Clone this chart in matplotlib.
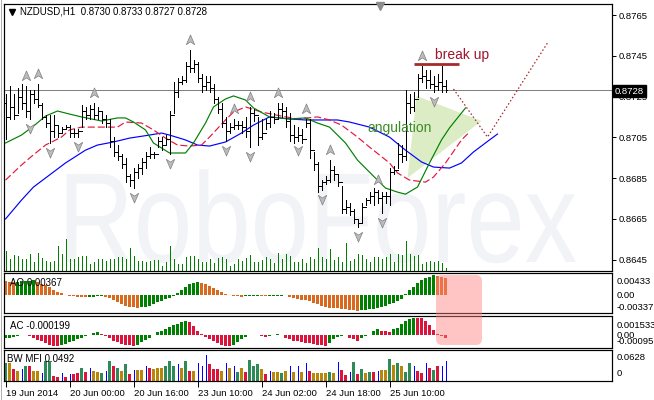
import numpy as np
import matplotlib
matplotlib.use("Agg")
import matplotlib.pyplot as plt
from matplotlib.path import Path
from matplotlib.patches import Polygon, FancyBboxPatch, PathPatch
from matplotlib.lines import Line2D
from matplotlib.textpath import TextPath
from matplotlib.font_manager import FontProperties
from matplotlib.transforms import Affine2D, ScaledTranslation

plt.rcParams['font.family'] = ['Liberation Sans', 'DejaVu Sans']

# ---- H1 bars, NZDUSD ----
high = [0.8726, 0.8730, 0.8726, 0.8729, 0.8731, 0.8730, 0.8728, 0.8728, 0.8731, 0.8722,
        0.8716, 0.8716, 0.8716, 0.8711, 0.8710, 0.8711, 0.8711, 0.8709, 0.8709, 0.8721,
        0.8720, 0.8721, 0.8722, 0.8720, 0.8718, 0.8716, 0.8714, 0.8705, 0.8701, 0.8697,
        0.8695, 0.8687, 0.8690, 0.8692, 0.8695, 0.8698, 0.8700, 0.8698, 0.8705, 0.8705,
        0.8706, 0.8718, 0.8732, 0.8734, 0.8735, 0.8742, 0.8748, 0.8743, 0.8742, 0.8736,
        0.8735, 0.8735, 0.8731, 0.8725, 0.8722, 0.8715, 0.8712, 0.8714, 0.8713, 0.8713,
        0.8715, 0.8720, 0.8719, 0.8715, 0.8714, 0.8714, 0.8718, 0.8717, 0.8722, 0.8722,
        0.8720, 0.8717, 0.8711, 0.8710, 0.8709, 0.8714, 0.8714, 0.8698, 0.8693, 0.8684,
        0.8686, 0.8694, 0.8691, 0.8687, 0.8681, 0.8674, 0.8673, 0.8670, 0.8665, 0.8673,
        0.8675, 0.8678, 0.8680, 0.8679, 0.8678, 0.8678, 0.8690, 0.8691, 0.8702, 0.8701,
        0.8728, 0.8726, 0.8727, 0.8736, 0.8740, 0.8738, 0.8738, 0.8735, 0.8736, 0.8740,
        0.8733]
low = [0.8704, 0.8714, 0.8714, 0.8717, 0.8719, 0.8715, 0.8714, 0.8722, 0.8720, 0.8714,
       0.8710, 0.8702, 0.8705, 0.8705, 0.8707, 0.8709, 0.8705, 0.8705, 0.8705, 0.8710,
       0.8714, 0.8714, 0.8714, 0.8714, 0.8712, 0.8710, 0.8700, 0.8696, 0.8694, 0.8690,
       0.8683, 0.8681, 0.8680, 0.8685, 0.8687, 0.8690, 0.8695, 0.8695, 0.8700, 0.8699,
       0.8701, 0.8697, 0.8717, 0.8725, 0.8731, 0.8732, 0.8737, 0.8737, 0.8732, 0.8727,
       0.8728, 0.8727, 0.8722, 0.8717, 0.8710, 0.8703, 0.8707, 0.8709, 0.8709, 0.8707,
       0.8705, 0.8700, 0.8713, 0.8701, 0.8704, 0.8709, 0.8710, 0.8712, 0.8714, 0.8715,
       0.8710, 0.8703, 0.8702, 0.8703, 0.8702, 0.8710, 0.8695, 0.8689, 0.8678, 0.8679,
       0.8682, 0.8683, 0.8684, 0.8681, 0.8668, 0.8668, 0.8667, 0.8663, 0.8661, 0.8663,
       0.8672, 0.8673, 0.8672, 0.8673, 0.8668, 0.8673, 0.8672, 0.8687, 0.8690, 0.8693,
       0.8694, 0.8717, 0.8718, 0.8725, 0.8732, 0.8729, 0.8729, 0.8727, 0.8728, 0.8727,
       0.8727]
close = [0.8715, 0.8720, 0.8716, 0.8725, 0.8722, 0.8718, 0.8726, 0.8724, 0.8721, 0.8715,
         0.8712, 0.8708, 0.8711, 0.8707, 0.8709, 0.8710, 0.8707, 0.8707, 0.8708, 0.8718,
         0.8716, 0.8719, 0.8716, 0.8718, 0.8714, 0.8712, 0.8703, 0.8698, 0.8696, 0.8692,
         0.8686, 0.8684, 0.8688, 0.8690, 0.8693, 0.8696, 0.8697, 0.8697, 0.8703, 0.8701,
         0.8704, 0.8716, 0.8727, 0.8732, 0.8733, 0.8740, 0.8739, 0.8741, 0.8734, 0.8730,
         0.8732, 0.8729, 0.8724, 0.8719, 0.8712, 0.8708, 0.8710, 0.8711, 0.8711, 0.8710,
         0.8708, 0.8717, 0.8716, 0.8705, 0.8707, 0.8712, 0.8715, 0.8714, 0.8719, 0.8718,
         0.8713, 0.8706, 0.8705, 0.8706, 0.8704, 0.8712, 0.8699, 0.8692, 0.8681, 0.8683,
         0.8684, 0.8689, 0.8687, 0.8683, 0.8670, 0.8671, 0.8669, 0.8665, 0.8663, 0.8671,
         0.8674, 0.8676, 0.8678, 0.8675, 0.8676, 0.8676, 0.8688, 0.8689, 0.8697, 0.8696,
         0.8722, 0.8720, 0.8724, 0.8734, 0.8735, 0.8733, 0.8731, 0.8730, 0.8732, 0.8730,
         0.8728]
first_open = 0.8722
last_price = 0.8728

volume = [800, 480, 640, 600, 480, 480, 680, 360, 720, 520,
          400, 360, 400, 1000, 680, 1280, 480, 480, 560, 600,
          600, 280, 360, 480, 480, 400, 480, 480, 560, 560,
          480, 920, 600, 400, 400, 360, 400, 440, 440, 200,
          360, 1000, 480, 280, 280, 560, 600, 600, 480, 360,
          360, 480, 320, 520, 560, 480, 200, 280, 480, 400,
          520, 640, 360, 360, 440, 560, 480, 320, 720, 480,
          680, 600, 360, 360, 480, 320, 560, 480, 920, 560,
          480, 880, 440, 560, 360, 1120, 400, 480, 680, 640,
          480, 360, 560, 560, 480, 560, 680, 360, 680, 640,
          1200, 680, 600, 640, 280, 360, 400, 360, 400, 320,
          120]

# Alligator (shifted lines run past the last bar)
jaw_x = [0, 4, 7, 11, 15, 20, 23, 27, 31, 36, 39, 41, 45, 48, 51, 55, 59, 62, 66, 71,
         75, 83, 86, 91, 96, 100, 104, 107, 111, 114, 117, 121, 123]
jaw_y = [0.86649, 0.86742, 0.86806, 0.86865, 0.86924, 0.86987, 0.87012, 0.87027, 0.87046, 0.87061,
         0.87071, 0.87061, 0.87037, 0.87012, 0.87007, 0.87027, 0.87071, 0.87110, 0.87150, 0.87140,
         0.87135, 0.87135, 0.87125, 0.87100, 0.87051, 0.86987, 0.86929, 0.86904, 0.86899, 0.86924,
         0.86978, 0.87037, 0.87066]
teeth_x = [0, 4, 6, 10, 14, 16, 19, 24, 28, 30, 34, 37, 40, 43, 46, 49, 51, 55, 57, 60,
           64, 69, 73, 78, 81, 84, 88, 91, 96, 98, 101, 105, 107, 110, 114, 116]
teeth_y = [0.86840, 0.86914, 0.86948, 0.87012, 0.87051, 0.87086, 0.87100, 0.87100, 0.87100, 0.87125,
           0.87120, 0.87086, 0.87046, 0.87012, 0.87007, 0.87012, 0.87051, 0.87135, 0.87174, 0.87199,
           0.87174, 0.87154, 0.87140, 0.87150, 0.87135, 0.87110, 0.87051, 0.87002, 0.86924, 0.86875,
           0.86840, 0.86830, 0.86855, 0.86924, 0.87037, 0.87076]
lips_x = [0, 4, 7, 10, 13, 16, 19, 24, 28, 30, 32, 35, 37, 41, 45, 47, 50, 52, 55, 57,
          60, 62, 66, 71, 75, 78, 81, 85, 88, 91, 95, 98, 100, 103, 106, 109, 111, 115]
lips_y = [0.87022, 0.87061, 0.87105, 0.87154, 0.87179, 0.87164, 0.87150, 0.87130, 0.87145, 0.87145,
          0.87125, 0.87086, 0.87022, 0.86973, 0.86973, 0.87022, 0.87120, 0.87199, 0.87238, 0.87253,
          0.87233, 0.87194, 0.87150, 0.87140, 0.87145, 0.87120, 0.87100, 0.87022, 0.86938, 0.86879,
          0.86801, 0.86781, 0.86771, 0.86806, 0.86924, 0.87037, 0.87096, 0.87194]

fractal_up = [5, 8, 22, 46, 57, 61, 68, 75, 81, 93, 104]
fractal_down = [6, 11, 18, 32, 41, 55, 61, 73, 79, 88, 94, 107]

# hand drawn analysis objects
angle_x = [102.75, 119.0, 100.5]
angle_y = [0.87253, 0.87130, 0.86850]
forecast_x = [112.0, 120.5, 135.5]
forecast_y = [0.87287, 0.87051, 0.87513]
breakup_x = [102.0, 113.25]
breakup_y = 0.87408

ao = [0.00301, 0.00293, 0.00286, 0.00293, 0.00301, 0.00308, 0.00315, 0.00323, 0.00293, 0.00249,
      0.00213, 0.00169, 0.00117, 0.00073, 0.00044, 0.00015, -0.00007, -0.00022, -0.00029, -0.00037,
      -0.00044, -0.00037, -0.00029, -0.00022, -0.00015, -0.00029, -0.00066, -0.00110, -0.00147, -0.00183,
      -0.00220, -0.00242, -0.00257, -0.00264, -0.00257, -0.00242, -0.00220, -0.00191, -0.00154, -0.00117,
      -0.00088, -0.00059, -0.00022, 0.00044, 0.00110, 0.00176, 0.00235, 0.00271, 0.00293, 0.00271,
      0.00242, 0.00205, 0.00161, 0.00117, 0.00073, 0.00037, 0.00015, -0.00007, -0.00022, -0.00029,
      -0.00026, -0.00022, -0.00018, -0.00015, -0.00018, -0.00022, -0.00018, -0.00015, -0.00011, -0.00007,
      -0.00004, -0.00029, -0.00059, -0.00081, -0.00095, -0.00103, -0.00125, -0.00161, -0.00198, -0.00235,
      -0.00249, -0.00271, -0.00279, -0.00282, -0.00293, -0.00301, -0.00308, -0.00325, -0.00337, -0.00325,
      -0.00315, -0.00301, -0.00286, -0.00271, -0.00257, -0.00235, -0.00198, -0.00161, -0.00125, -0.00088,
      0.00029, 0.00117, 0.00169, 0.00264, 0.00330, 0.00367, 0.00381, 0.00433, 0.00411, 0.00381,
      0.00367]

ac = [-0.000274, -0.000205, -0.000137, -0.000068, 0.0, 0.000034, -0.000068, -0.000205, -0.000410, -0.000547,
      -0.000684, -0.000821, -0.00093, -0.00095, -0.000889, -0.000752, -0.000616, -0.000479, -0.000342, -0.000205,
      -0.000068, 0.000068, 0.000205, 0.000274, 0.000137, -0.000068, -0.000274, -0.000479, -0.000616, -0.000752,
      -0.000821, -0.000889, -0.00093, -0.000821, -0.000616, -0.000410, -0.000205, 0.000068, 0.000274, 0.000410,
      0.000547, 0.000752, 0.000889, 0.001026, 0.001163, 0.0013, 0.001163, 0.000821, 0.000410, 0.000137,
      -0.000137, -0.000342, -0.000547, -0.000684, -0.000821, -0.00093, -0.00095, -0.000821, -0.000616, -0.000342,
      -0.000137, 0.0, 0.000068, 0.0, -0.000068, -0.000137, -0.000068, 0.000068, 0.000137, 0.0,
      -0.000205, -0.000342, -0.000479, -0.000547, -0.000616, -0.000684, -0.000720, -0.000752, -0.000821, -0.000889,
      -0.00093, -0.000684, -0.000342, -0.000137, -0.000068, 0.000034, -0.000205, -0.000342, -0.000479, -0.000274,
      -0.000068, 0.000068, 0.000410, 0.000547, 0.000410, 0.000342, 0.000308, 0.000547, 0.000684, 0.000958,
      0.001231, 0.001436, 0.001533, 0.00152, 0.00150, 0.0013, 0.000889, 0.000479, 0.000137, -0.000068,
      -0.000199]

mfi = [0.0435, 0.0435, 0.0290, 0.0242, 0.0290, 0.0362, 0.0362, 0.0242, 0.0242, 0.0193,
       0.0483, 0.0483, 0.0121, 0.0097, 0.0193, 0.0097, 0.0169, 0.0169, 0.0193, 0.0314,
       0.0217, 0.0314, 0.0242, 0.0217, 0.0193, 0.0242, 0.0483, 0.0362, 0.0314, 0.0242,
       0.0411, 0.0169, 0.0266, 0.0266, 0.0266, 0.0362, 0.0314, 0.0290, 0.0314, 0.0314,
       0.0362, 0.0483, 0.0362, 0.0411, 0.0314, 0.0483, 0.0242, 0.0242, 0.0435, 0.0362,
       0.0628, 0.0411, 0.0290, 0.0290, 0.0242, 0.0435, 0.0314, 0.0362, 0.0217, 0.0314,
       0.0217, 0.0507, 0.0362, 0.0411, 0.0290, 0.0169, 0.0242, 0.0217, 0.0217, 0.0193,
       0.0242, 0.0362, 0.0217, 0.0362, 0.0217, 0.0435, 0.0242, 0.0193, 0.0193, 0.0193,
       0.0193, 0.0217, 0.0193, 0.0459, 0.0266, 0.0145, 0.0217, 0.0459, 0.0169, 0.0290,
       0.0193, 0.0217, 0.0217, 0.0242, 0.0266, 0.0266, 0.0531, 0.0386, 0.0435, 0.0362,
       0.0217, 0.0435, 0.0362, 0.0242, 0.0193, 0.0435, 0.0314, 0.0266, 0.0362, 0.0362,
       0.0492]
# g = green, y = fade, b = fake, r = squat
mfi_zone = ("gyrybgryyb" "ggrrbrbrrg" "rbyygbgrgy" "grbyybryyy" "gggbygrybb"
            "brrrybybgy" "rgggyrbyyg" "ybybybryyy" "ygybrrbgrg" "ygrbyygygy"
            "ggbrrbrgrb" "b")

x_label_pos = [0, 16, 32, 48, 64, 80, 96]
x_labels = ['19 Jun 2014', '20 Jun 00:00', '20 Jun 16:00', '23 Jun 10:00',
            '24 Jun 02:00', '24 Jun 18:00', '25 Jun 10:00']
price_ticks = [0.8765, 0.8745, 0.8725, 0.8705, 0.8685, 0.8665, 0.8645]

W, H = 654, 400
FS = 6.8
PX = 0.72  # one pixel in points


def px_rect(l, t, r, b):
    return [l / W, 1 - b / H, (r - l) / W, (b - t) / H]


def fig_label(x, y, s, **kw):
    fig.text(x / W, 1 - y / H, s, va='center', fontsize=kw.pop('fontsize', FS), **kw)


def style_panel(a):
    for sp in a.spines.values():
        sp.set_color('black')
        sp.set_linewidth(PX * 1.2)
    a.tick_params(axis='x', bottom=False, labelbottom=False)
    a.set_yticks([])


fig = plt.figure(figsize=(W / 100, H / 100), dpi=100)
ax = fig.add_axes(px_rect(4, 4, 612, 271))
ax_ao = fig.add_axes(px_rect(4, 273, 612, 313), sharex=ax)
ax_ac = fig.add_axes(px_rect(4, 316, 612, 348), sharex=ax)
ax_mfi = fig.add_axes(px_rect(4, 350, 612, 381), sharex=ax)
for a in (ax, ax_ao, ax_ac, ax_mfi):
    style_panel(a)

n = len(close)
idx = np.arange(n)
high = np.array(high)
low = np.array(low)
close = np.array(close)
open_ = np.r_[first_open, close[:-1]]

ax.set_xlim(-0.375, 151.625)
ax.set_ylim(0.86394, 0.87704)

# watermark
tp = TextPath((0, 0), "RoboForex", size=128, prop=FontProperties(family='Liberation Sans'))
wm_tr = Affine2D().scale(0.82, 1).translate(58, 400 - 262).scale(1 / W, 1 / H) + fig.transFigure
ax.add_patch(PathPatch(tp, transform=wm_tr, facecolor='#f2f3f7', edgecolor='none', zorder=0))

# volumes along the bottom of the price window
ax.vlines(idx, 0, np.array(volume) / (267 * 40), transform=ax.get_xaxis_transform(),
          color='#008000', lw=PX, antialiased=False, zorder=1)

ax.add_patch(Polygon(list(zip(angle_x, angle_y)), closed=True, facecolor='#dcedc6',
                     edgecolor='none', zorder=1))

ax.axhline(last_price, color='#808080', lw=PX, zorder=2)

ax.plot(jaw_x, jaw_y, color='#0000ff', lw=0.85, zorder=3)
ax.plot(teeth_x, teeth_y, color='#e3173e', lw=0.85, dashes=(6, 2.5), zorder=3)
ax.plot(lips_x, lips_y, color='#008000', lw=0.85, zorder=3)

ax.vlines(idx, low, high, color='black', lw=PX, antialiased=False, zorder=4)
ax.hlines(open_, idx - 0.45, idx, color='black', lw=PX, antialiased=False, zorder=4)
ax.hlines(close, idx, idx + 0.45, color='black', lw=PX, antialiased=False, zorder=4)

# fractal arrows
arrow_up = Path([(0, 1), (0.75, -0.75), (0, -0.25), (-0.75, -0.75), (0, 1)],
                [Path.MOVETO, Path.LINETO, Path.LINETO, Path.LINETO, Path.CLOSEPOLY])
arrow_dn = Path([(0, -1), (0.75, 0.75), (0, 0.25), (-0.75, 0.75), (0, -1)],
                [Path.MOVETO, Path.LINETO, Path.LINETO, Path.LINETO, Path.CLOSEPOLY])
up_tr = ax.transData + ScaledTranslation(0, 0.10, fig.dpi_scale_trans)
dn_tr = ax.transData + ScaledTranslation(0, -0.09, fig.dpi_scale_trans)
ax.plot(fractal_up, high[fractal_up], ls='none', marker=arrow_up, ms=8,
        mfc='#bcbcbc', mec='#808080', mew=0.5, transform=up_tr, zorder=5)
ax.plot(fractal_down, low[fractal_down], ls='none', marker=arrow_dn, ms=8,
        mfc='#bcbcbc', mec='#808080', mew=0.5, transform=dn_tr, zorder=5)

# analysis drawings
ax.plot(forecast_x, forecast_y, color='#a52a2a', lw=0.9, ls=(0, (1.2, 1.8)), zorder=5)
ax.plot(breakup_x, [breakup_y, breakup_y], color='#a52a2a', lw=2, solid_capstyle='butt', zorder=5)
ax.text(107.4, 0.87454, 'break up', color='#a0142d', fontsize=10, va='center', ha='left', zorder=6)
ax.text(90.4, 0.87094, 'angulation', color='#3c8c28', fontsize=10, va='center', ha='left', zorder=6)

ax.yaxis.tick_right()
ax.set_yticks(price_ticks)
ax.set_yticklabels(['%.4f' % v for v in price_ticks])
ax.tick_params(axis='y', right=True, length=3, width=PX, pad=2, labelsize=FS, color='black')

# AO
ao = np.array(ao)
ao_col = ['#d9691e'] + ['#008000' if ao[i] > ao[i - 1] else '#d9691e' for i in range(1, n)]
ax_ao.bar(idx, ao, width=0.75, color=ao_col, linewidth=0)
ax_ao.set_ylim(-0.0038, 0.00476)

# AC
ac = np.array(ac)
ac_col = ['#008000'] + ['#008000' if ac[i] > ac[i - 1] else '#dc143c' for i in range(1, n)]
ax_ac.bar(idx, ac, width=0.75, color=ac_col, linewidth=0)
ax_ac.set_ylim(-0.00113, 0.00171)

# BW MFI
zone_col = {'g': '#2e8b57', 'y': '#b8860b', 'r': '#dc143c', 'b': '#0000ff'}
mfi = np.array(mfi)
solid = np.array([z != 'b' for z in mfi_zone])
ax_mfi.bar(idx[solid], mfi[solid], width=0.75, linewidth=0,
           color=[zone_col[z] for z in mfi_zone if z != 'b'])
ax_mfi.vlines(idx[~solid], 0, mfi[~solid], color='#0000ff', lw=PX, antialiased=False)
ax_mfi.set_ylim(0, 0.075)
ax_mfi.set_xticks(x_label_pos)
ax_mfi.set_xticklabels(x_labels, ha='left')
ax_mfi.tick_params(axis='x', bottom=True, labelbottom=True, length=4, width=PX, pad=2,
                   labelsize=FS, direction='out')

# texts
fig.add_artist(Line2D([12 / W], [1 - 12 / H], marker='v', color='black', ms=4,
                      transform=fig.transFigure))
fig_label(20, 12, 'NZDUSD,H1  0.8730 0.8733 0.8727 0.8728', fontsize=7)
fig_label(10, 283, 'AO 0.00367', fontsize=7)
fig_label(10, 326, 'AC -0.000199', fontsize=7)
fig_label(7, 359, 'BW MFI 0.0492', fontsize=7)

fig_label(617, 281, '0.00433')
fig_label(617, 295, '0.00')
fig_label(617, 307, '-0.00337')
fig_label(617, 325, '0.001533')
fig_label(617, 335, '0.00')
fig_label(617, 341, '-0.00095')
fig_label(617, 357, '0.0628')
fig_label(617, 373, '0')

fig_label(615, 91, '0.8728', color='white',
          bbox=dict(facecolor='black', edgecolor='black', pad=1.3))

fig.add_artist(Line2D([380 / W], [1 - 6 / H], marker='v', color='#8c8c8c', ms=6,
                      transform=fig.transFigure))

# highlighted zone over the oscillators
hl_tr = Affine2D().scale(1 / W, 1 / H) + fig.transFigure
fig.add_artist(FancyBboxPatch((436, 400 - 345), 46, 70, boxstyle='round,pad=0,rounding_size=6',
                              transform=hl_tr, facecolor='#ff8080', edgecolor='none',
                              alpha=0.45, zorder=10))

fig.add_artist(Line2D([1 / W, 1 / W], [0, 1], color='#b0b0b0', lw=PX, transform=fig.transFigure))

fig.savefig('out.png', dpi=100)
